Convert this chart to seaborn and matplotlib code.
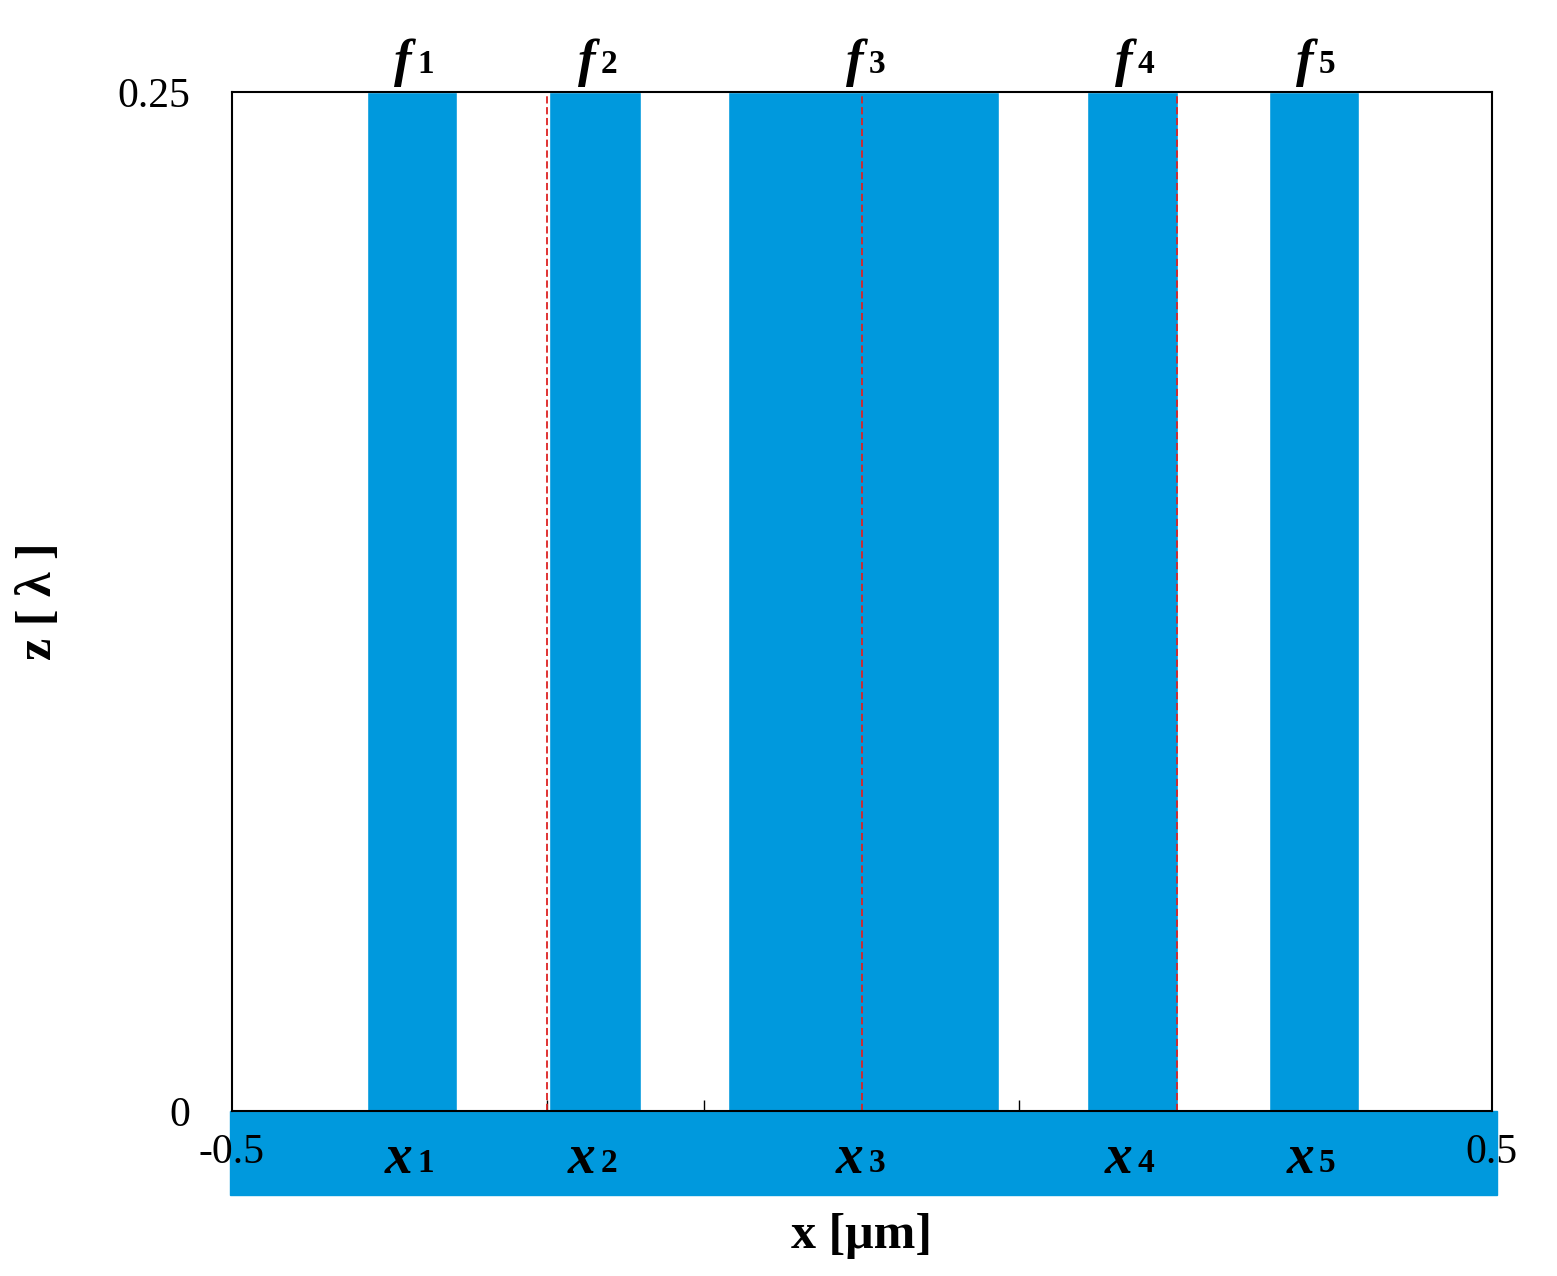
import matplotlib
matplotlib.use("Agg")
import matplotlib.pyplot as plt
import seaborn as sns
from matplotlib.patches import Rectangle

sns.set_theme(style="white")
plt.rcParams['font.family'] = ['Liberation Serif', 'DejaVu Serif']
plt.rcParams['text.color'] = 'black'
plt.rcParams['axes.labelcolor'] = 'black'
plt.rcParams['xtick.color'] = 'black'
plt.rcParams['ytick.color'] = 'black'

bar_left = [-0.393, -0.248, -0.106, 0.179, 0.323]
bar_width = [0.072, 0.073, 0.215, 0.072, 0.072]
height = 0.25
f_labels = ["1", "2", "3", "4", "5"]
dash_x = [-0.25, 0.0, 0.25]
tick_x = [-0.375, -0.25, -0.125, 0.0, 0.125, 0.25]
blue = "#0099dd"

fig = plt.figure(figsize=(15.57, 12.76), dpi=100)
ax = fig.add_axes([0.149, 0.1293, 0.809, 0.7987])
ax.bar(bar_left, [height]*5, width=bar_width, align="edge", color=blue, zorder=0.8)
for x in dash_x:
    ax.axvline(x, color="#dd2222", ls=(0, (4, 2)), lw=1.3, zorder=2)
ax.set_xlim(-0.5, 0.5)
ax.set_ylim(0, 0.25)
ax.set_xticks(tick_x)
ax.set_xticklabels([])
ax.tick_params(axis="x", direction="in", length=8, width=1, bottom=True, color="black")
ax.set_yticks([0, 0.25])
ax.set_yticklabels(["0", "0.25"], fontsize=30)
ax.tick_params(axis="y", length=0, pad=30)
for s in ax.spines.values():
    s.set_color("black"); s.set_linewidth(1.5)

ax.add_patch(Rectangle((-0.0016, 0), 1.0055, -0.0824, transform=ax.transAxes,
                       clip_on=False, color=blue, zorder=0.5))
trans = ax.get_xaxis_transform()
for i, (l, w) in enumerate(zip(bar_left, bar_width)):
    c = l + w/2
    ax.text(c, 1.005, "f", transform=trans, ha="right", va="bottom", fontsize=38,
            fontstyle="italic", fontweight="bold")
    ax.text(c + 0.004, 1.012, f_labels[i], transform=trans, ha="left", va="bottom", fontsize=24, fontweight="bold")
    ax.text(c, -0.022, "x", transform=trans, ha="right", va="top", fontsize=40,
            fontstyle="italic", fontweight="bold")
    ax.text(c + 0.004, -0.036, f_labels[i], transform=trans, ha="left", va="top", fontsize=24, fontweight="bold")
ax.text(-0.5, -0.022, "-0.5", transform=trans, ha="center", va="top", fontsize=30)
ax.text(0.5, -0.022, "0.5", transform=trans, ha="center", va="top", fontsize=30)

ax.set_xlabel("x [μm]", fontsize=36, fontweight="bold", labelpad=70)
ax.set_ylabel("z [ λ ]", fontsize=36, fontweight="bold", labelpad=40)
fig.savefig("out.png", dpi=100)
